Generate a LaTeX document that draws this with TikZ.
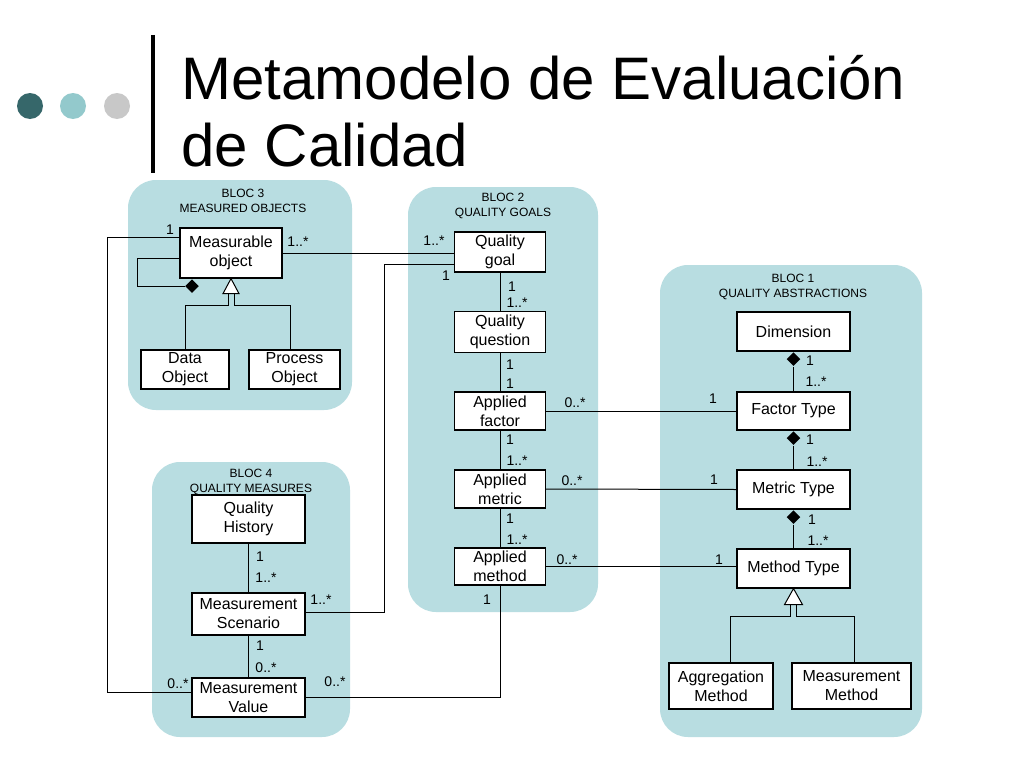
\documentclass[tikz,border=0pt]{standalone}
\usepackage{fontspec}
\setmainfont{Liberation Sans}
\usepackage{tikz}
\usetikzlibrary{shapes.geometric}
\definecolor{blocfill}{HTML}{B8DDE1}
\definecolor{dotdark}{HTML}{36676A}
\definecolor{dotmid}{HTML}{93C9CC}
\definecolor{dotgrey}{HTML}{C8C8C8}

\begin{document}
\begin{tikzpicture}[x=1pt,y=-1pt,line width=1pt,
	bloc/.style={fill=blocfill,rounded corners=28pt},
	cls/.style={draw,fill=white,line width=1.2pt,align=center,inner sep=0pt,font=\fontsize{16}{19}\selectfont},
	hdr/.style={align=center,inner sep=0pt,font=\fontsize{12}{15.5}\selectfont},
	mult/.style={inner sep=0pt,font=\fontsize{14}{16}\selectfont},
	comp/.style={diamond,fill=black,inner sep=0pt,minimum width=14pt,minimum height=14pt,anchor=north}]
	\useasboundingbox[fill=white] (0,0) rectangle (1024,768);
	\fill[dotdark] (30,106) circle (13pt);
	\fill[dotmid] (73,106) circle (13pt);
	\fill[dotgrey] (117,106) circle (13pt);
	\draw[line width=4pt] (153,35) -- (153,173);
	\node[anchor=base west,inner sep=0pt,font=\fontsize{60}{70}\selectfont] (ttl1) at (181,99) {Metamodelo de Evaluación};
	\node[anchor=base west,inner sep=0pt,font=\fontsize{60}{70}\selectfont] (ttl2) at (181,166) {de Calidad};

	\path[bloc] (128,180) rectangle (352,410);
	\path[bloc] (408,187) rectangle (598,612);
	\path[bloc] (152,462) rectangle (350,737);
	\path[bloc] (660,265) rectangle (922,737);
	\node[hdr] (h3) at (243,201) {BLOC 3\\MEASURED OBJECTS};
	\node[hdr] (h2) at (503,206) {BLOC 2\\QUALITY GOALS};
	\node[hdr] (h4) at (251,482) {BLOC 4\\QUALITY MEASURES};
	\node[hdr] (h1) at (793,287) {BLOC 1\\QUALITY ABSTRACTIONS};

	\node[cls,minimum width=102pt,minimum height=50pt] (mo) at (231,253) {Measurable\\object};
	\node[cls,minimum width=88pt,minimum height=39pt] (do) at (185,369.5) {Data\\Object};
	\node[cls,minimum width=91pt,minimum height=39pt] (po) at (294.5,369.5) {Process\\Object};
	\node[cls,minimum width=91pt,minimum height=40pt] (qg) at (500,252) {Quality\\goal};
	\node[cls,minimum width=91pt,minimum height=41pt] (qq) at (500,332) {Quality\\question};
	\node[cls,minimum width=91pt,minimum height=38pt] (af) at (500,411) {Applied\\factor};
	\node[cls,minimum width=91pt,minimum height=38pt] (amt) at (500,489) {Applied\\metric};
	\node[cls,minimum width=91pt,minimum height=37pt] (amd) at (500,566.5) {Applied\\method};
	\node[cls,minimum width=113pt,minimum height=48pt] (qh) at (248.5,519) {Quality\\History};
	\node[cls,minimum width=113pt,minimum height=42pt] (ms) at (248.5,614) {Measurement\\Scenario};
	\node[cls,minimum width=113pt,minimum height=39pt] (mv) at (248.5,697.5) {Measurement\\Value};
	\node[cls,minimum width=113pt,minimum height=39pt] (dim) at (793.5,331.5) {Dimension};
	\node[cls,minimum width=113pt,minimum height=38pt] (ft) at (793.5,411) {Factor Type};
	\node[cls,minimum width=113pt,minimum height=39pt] (mtt) at (793.5,489.5) {Metric Type};
	\node[cls,minimum width=113pt,minimum height=39pt] (mth) at (793.5,568.5) {Method Type};
	\node[cls,minimum width=104pt,minimum height=46pt] (agm) at (721,686) {Aggregation\\Method};
	\node[cls,minimum width=119pt,minimum height=46pt] (mem) at (851.5,686) {Measurement\\Method};

	\node[comp] (dmo) at ([xshift=-39pt]mo.south) {};
	\node[comp] (d1) at (dim.south) {};
	\node[comp] (d2) at (ft.south) {};
	\node[comp] (d3) at (mtt.south) {};
	\draw ([yshift=-5pt]mo.west) -- ++(-42,0) |- (dmo.west);
	\draw[fill=white] (mo.south) -- ++(-8,15) -- ++(16,0) -- cycle;
	\coordinate (g1) at ([yshift=-15pt]mo.south);
	\draw ([xshift=-3pt]g1) -- ++(0,12) -| (do.north);
	\draw ([xshift=3pt]g1) -- ++(0,12) -| ([xshift=-4pt]po.north);
	\draw[fill=white] (mth.south) -- ++(-9,16) -- ++(18,0) -- cycle;
	\coordinate (g2) at ([yshift=-16pt]mth.south);
	\draw ([xshift=-3pt]g2) -- ++(0,12) -| ([xshift=9pt]agm.north);
	\draw ([xshift=3pt]g2) -- ++(0,12) -| ([xshift=3pt]mem.north);

	\draw ([yshift=16pt]mo.west) -| ([xshift=-84pt,yshift=5pt]mv.west) -- ([yshift=5pt]mv.west);
	\draw (mo.east) -- (mo.east -| qg.west);
	\draw ([yshift=2pt]ms.east) -| ([xshift=-69pt,yshift=-12pt]qg.west) -- ([yshift=-12pt]qg.west);
	\draw (mv.east) -| (amd.south);
	\draw (qg.south) -- (qq.north);
	\draw (qq.south) -- (af.north);
	\draw (af.south) -- (amt.north);
	\draw (amt.south) -- (amd.north);
	\draw (qh.south) -- (ms.north);
	\draw (ms.south) -- (mv.north);
	\draw (af.east) -- (ft.west);
	\draw (amt.east) -- (mtt.west);
	\draw (amd.east) -- (amd.east -| mth.west);
	\draw (d1.south) -- (ft.north);
	\draw (d2.south) -- (mtt.north);
	\draw (d3.south) -- (mth.north);

	\node[mult] (m1) at (170,230) {1};
	\node[mult] (m2) at (298,242) {1..*};
	\node[mult] (m3) at (434,241) {1..*};
	\node[mult] (m4) at (446,276) {1};
	\node[mult] (m5) at (512,287) {1};
	\node[mult] (m6) at (517,303) {1..*};
	\node[mult] (m7) at (510,365) {1};
	\node[mult] (m8) at (510,384) {1};
	\node[mult] (m9) at (510,440) {1};
	\node[mult] (m10) at (517,461) {1..*};
	\node[mult] (m11) at (510,519) {1};
	\node[mult] (m12) at (517,540) {1..*};
	\node[mult] (m13) at (487,600) {1};
	\node[mult] (m14) at (575,403) {0..*};
	\node[mult] (m15) at (572,481) {0..*};
	\node[mult] (m16) at (567,560) {0..*};
	\node[mult] (m17) at (713,399) {1};
	\node[mult] (m18) at (714,480) {1};
	\node[mult] (m19) at (719,560) {1};
	\node[mult] (m20) at (810,361) {1};
	\node[mult] (m21) at (816,382) {1..*};
	\node[mult] (m22) at (810,440) {1};
	\node[mult] (m23) at (817,462) {1..*};
	\node[mult] (m24) at (812,520) {1};
	\node[mult] (m25) at (818,541) {1..*};
	\node[mult] (m26) at (260,557) {1};
	\node[mult] (m27) at (266,578) {1..*};
	\node[mult] (m28) at (321,600) {1..*};
	\node[mult] (m29) at (260,646) {1};
	\node[mult] (m30) at (266,668) {0..*};
	\node[mult] (m31) at (178,684) {0..*};
	\node[mult] (m32) at (335,682) {0..*};
\end{tikzpicture}
\end{document}
